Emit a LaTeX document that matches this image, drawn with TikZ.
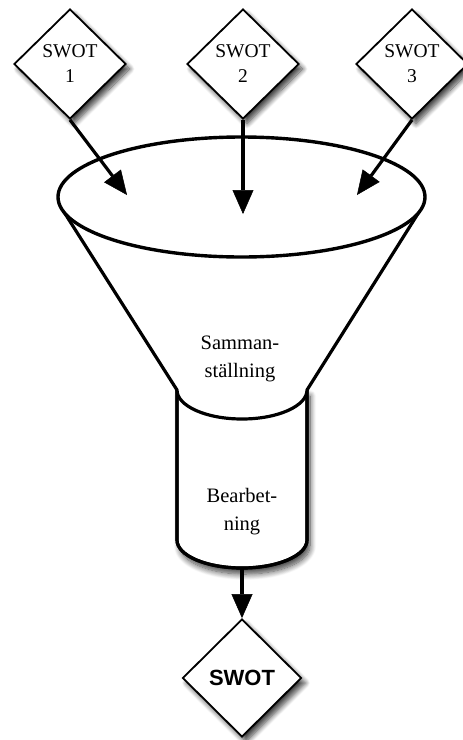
\documentclass[tikz,border=0pt]{standalone}
\usepackage{fontspec}
\setmainfont{Liberation Serif}
\newfontfamily\swotsans{Liberation Sans}
\usetikzlibrary{shapes.geometric,arrows.meta,shadows.blur}
\tikzset{
  swotbox/.style={diamond, draw, fill=white, line width=1.8pt, inner sep=0pt,
    minimum width=112pt, minimum height=110pt, align=center,
    font=\fontsize{19.5}{25}\selectfont,
    blur shadow={shadow xshift=4pt, shadow yshift=-5pt, shadow blur steps=10, shadow blur radius=5pt, shadow opacity=75}},
  flowarrow/.style={draw=black, line width=3.2pt, -{Triangle[length=24pt,width=21pt,fill=black,line width=0.5pt]}},
  funnelline/.style={line width=3.2pt, line join=round},
  lbl/.style={align=center, font=\fontsize{20.5}{28}\selectfont}
}
\begin{document}
\begin{tikzpicture}[x=1pt, y=-1pt]
\useasboundingbox (0,0) rectangle (463,740);
% cylinder
\draw[funnelline, fill=white, blur shadow={shadow xshift=3pt, shadow yshift=-6pt, shadow blur steps=10, shadow blur radius=6pt, shadow opacity=75}]
  (177,390) -- (177,540) arc[start angle=180, end angle=360, x radius=65pt, y radius=28pt] -- (307,390) -- cycle;
\draw[funnelline] (177,390) -- (177,540) arc[start angle=180, end angle=360, x radius=65pt, y radius=28pt] -- (307,390);
\coordinate (cylb) at (242,568);
% cone
\fill[white] (64,212) -- (177,390) arc[start angle=180, end angle=360, x radius=65pt, y radius=29pt] -- (419,212) -- cycle;
\draw[funnelline] (64,212) -- (177,390) arc[start angle=180, end angle=360, x radius=65pt, y radius=29pt] -- (419,212);
% rim
\node[ellipse, draw, fill=white, line width=3.4pt, minimum width=367pt, minimum height=120pt, inner sep=0pt] (rim) at (241.5,197) {};
% labels
\node[lbl] (samman) at (240,359) {Samman-\\ställning};
\node[lbl] (bearb) at (242,512) {Bearbet-\\ning};
% diamonds
\node[swotbox] (s1) at (70,64) {SWOT\\1};
\node[swotbox] (s2) at (243,64) {SWOT\\2};
\node[swotbox] (s3) at (412,64) {SWOT\\3};
\node[swotbox, minimum width=119pt, minimum height=118pt, font=\swotsans\bfseries\fontsize{22}{26}\selectfont] (out) at (242,678) {SWOT};
% arrow ends
\coordinate (t1) at (127,195);
\coordinate (t2) at (243,214);
\coordinate (t3) at (357,195);
\draw[flowarrow] (s1.south) -- (t1);
\draw[flowarrow] (s2.south) -- (t2);
\draw[flowarrow] (s3.south) -- (t3);
\draw[flowarrow] (cylb) -- (out.north);
\end{tikzpicture}
\end{document}
